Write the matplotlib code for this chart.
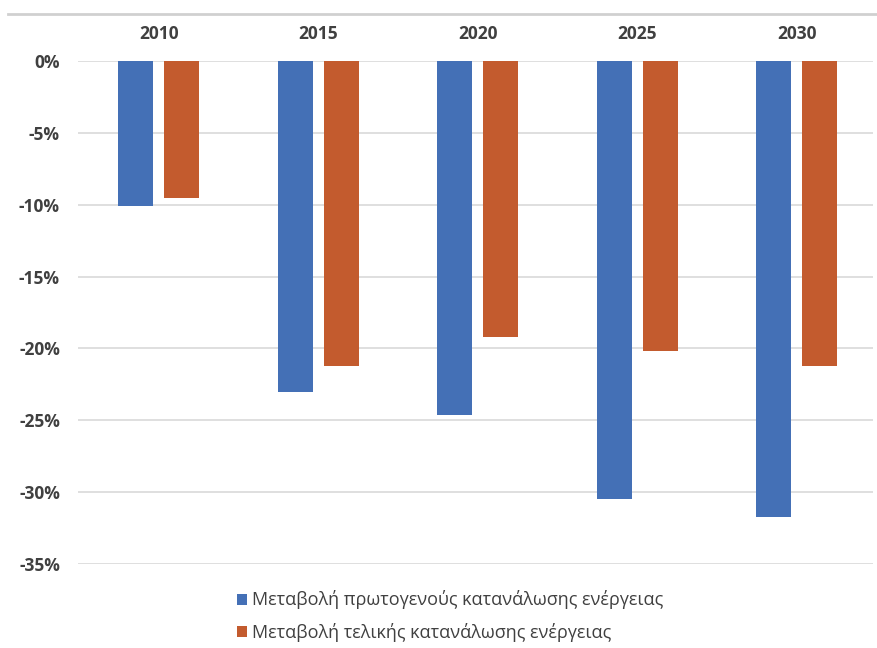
import numpy as np
import matplotlib.pyplot as plt
from matplotlib.lines import Line2D
from matplotlib.ticker import FuncFormatter

plt.rcParams['font.family'] = ['Open Sans', 'DejaVu Sans']

years = ['2010', '2015', '2020', '2025', '2030']
primary = [-10.1, -23.0, -24.6, -30.5, -31.7]
final = [-9.5, -21.2, -19.2, -20.2, -21.2]
labels = ['Μεταβολή πρωτογενούς κατανάλωσης ενέργειας',
          'Μεταβολή τελικής κατανάλωσης ενέργειας']

blue = '#4470B6'
orange = '#C35B2E'
text_col = '#404040'

fig = plt.figure(figsize=(8.77, 6.48), dpi=100)
ax = fig.add_axes([0.089, 0.1296, 0.906, 0.7763])

x = np.arange(len(years))
w = 0.22
off = 0.144
b1 = ax.bar(x - off, primary, w, color=blue, label=labels[0], zorder=3)
b2 = ax.bar(x + off, final, w, color=orange, label=labels[1], zorder=3)

ax.set_ylim(-35, 0)
ax.set_xlim(-0.505, 4.475)
ax.set_yticks(np.arange(-35, 1, 5))
ax.yaxis.set_major_formatter(FuncFormatter(lambda v, p: f'{int(round(v))}%'))
ax.grid(axis='y', color='#d9d9d9', linewidth=1.2, zorder=0)
for s in ax.spines.values():
    s.set_visible(False)

ax.xaxis.tick_top()
ax.set_xticks(x)
ax.set_xticklabels(years)
ax.tick_params(axis='x', length=0, pad=13, labelsize=12.5, labelcolor=text_col)
ax.tick_params(axis='y', length=0, pad=13, labelsize=12.5, labelcolor=text_col)
for t in ax.get_xticklabels() + ax.get_yticklabels():
    t.set_fontweight('bold')

# thin frame line at the top of the picture
fig.add_artist(Line2D([0.009, 1.0], [0.979, 0.979], color='#d0d0d0', linewidth=2,
                      transform=fig.transFigure))

fig.legend(handles=[b1, b2], labels=labels, loc='center',
           bbox_to_anchor=(0.513, 0.049), ncol=1, frameon=False,
           fontsize=13, handlelength=0.55, handleheight=0.55,
           handletextpad=0.3, labelspacing=0.75, labelcolor=text_col)

fig.savefig('out.png', dpi=100)
